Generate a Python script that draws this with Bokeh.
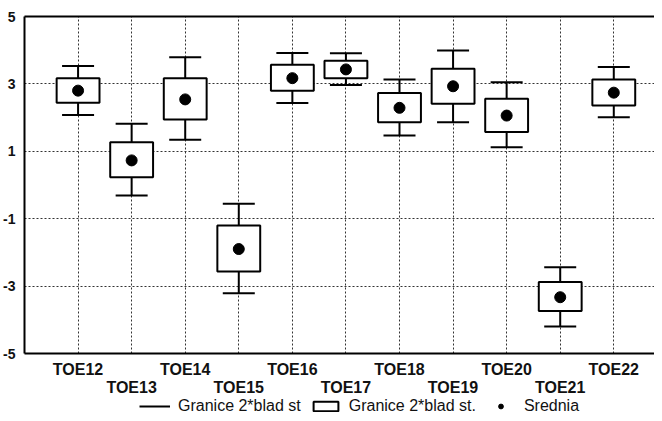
from bokeh.plotting import figure
from bokeh.layouts import column
from bokeh.models import (LinearAxis, FixedTicker, Range1d, Legend, LegendItem,
                          ColumnDataSource, Plot, Segment, VBar, Scatter)
from bokeh.embed import file_html
from bokeh.resources import INLINE

categories = ["TOE12", "TOE13", "TOE14", "TOE15", "TOE16", "TOE17",
              "TOE18", "TOE19", "TOE20", "TOE21", "TOE22"]
mean = [2.80, 0.73, 2.54, -1.90, 3.17, 3.43, 2.29, 2.93, 2.06, -3.33, 2.74]
box_hi = [3.17, 1.27, 3.17, -1.20, 3.57, 3.69, 2.73, 3.45, 2.56, -2.88, 3.13]
box_lo = [2.44, 0.23, 1.94, -2.57, 2.80, 3.17, 1.86, 2.41, 1.57, -3.74, 2.36]
whisk_hi = [3.53, 1.82, 3.79, -0.56, 3.92, 3.91, 3.13, 3.99, 3.05, -2.44, 3.50]
whisk_lo = [2.08, -0.31, 1.34, -3.21, 2.43, 2.97, 1.47, 1.86, 1.12, -4.20, 2.01]
y_ticks = [-5, -3, -1, 1, 3, 5]
y_tick_labels = ["-5", "-3", "-1", "1", "3", "5"]
legend_labels = ["Granice 2*blad st", "Granice 2*blad st.", "Srednia"]

x_pos = list(range(1, len(categories) + 1))
src = ColumnDataSource(dict(x=x_pos, mean=mean, box_hi=box_hi, box_lo=box_lo,
                            whisk_hi=whisk_hi, whisk_lo=whisk_lo))

FONT = "Liberation Sans"

p = figure(width=654, height=401,
           x_range=Range1d(0, 11.76), y_range=Range1d(-5, 5),
           output_backend="svg", toolbar_location=None,
           min_border_left=19, min_border_right=0, min_border_top=16,
           min_border_bottom=48)
p.outline_line_color = None
p.background_fill_color = "white"
p.border_fill_color = "white"

# grids
p.xgrid.ticker = FixedTicker(ticks=x_pos)
p.ygrid.ticker = FixedTicker(ticks=[t for t in y_ticks if -5 < t < 5])
for g in (p.xgrid[0], p.ygrid[0]):
    g.grid_line_color = "#333333"
    g.grid_line_dash = "2 2"
    g.grid_line_width = 1

# left axis
ya = p.yaxis[0]
ya.ticker = FixedTicker(ticks=y_ticks)
ya.major_label_overrides = {t: s for t, s in zip(y_ticks, y_tick_labels)}
ya.axis_line_width = 2
ya.axis_line_color = "black"
ya.major_tick_line_color = None
ya.minor_tick_line_color = None
ya.major_label_text_font = FONT
ya.major_label_text_font_style = "bold"
ya.major_label_text_font_size = "14px"
ya.major_label_text_color = "#111111"
ya.major_label_standoff = 3

# bottom axis: staggered category labels (odd positions on a second line)
xa = p.xaxis[0]
xa.ticker = FixedTicker(ticks=x_pos)
xa.major_label_overrides = {x: (c if i % 2 == 0 else "\n" + c)
                            for i, (x, c) in enumerate(zip(x_pos, categories))}
xa.axis_line_width = 2
xa.axis_line_color = "black"
xa.major_tick_line_color = None
xa.minor_tick_line_color = None
xa.major_label_text_font = FONT
xa.major_label_text_font_style = "bold"
xa.major_label_text_font_size = "16px"
xa.major_label_text_color = "#111111"
xa.major_label_text_line_height = 1.1
xa.major_label_standoff = 1

# top frame line
xt = LinearAxis(ticker=FixedTicker(ticks=[]), axis_line_width=2,
                axis_line_color="black", major_tick_line_color=None,
                minor_tick_line_color=None, major_label_text_font_size="0px",
                major_label_standoff=0)
p.add_layout(xt, "above")

# stems
p.segment(x0="x", y0="whisk_lo", x1="x", y1="whisk_hi", source=src,
          line_color="black", line_width=2)
# boxes
p.vbar(x="x", width=0.8, top="box_hi", bottom="box_lo", source=src,
       fill_color="white", line_color="black", line_width=2)
# caps
p.scatter(x="x", y="whisk_hi", source=src, marker="dash", size=32,
          line_color="black", line_width=2)
p.scatter(x="x", y="whisk_lo", source=src, marker="dash", size=32,
          line_color="black", line_width=2)
# means
p.scatter(x="x", y="mean", source=src, marker="circle", size=11,
          fill_color="black", line_color="black")

# legend strip below the chart (its own small plot, so nothing is clipped)
leg = Plot(width=654, height=20, x_range=Range1d(0, 11.76),
           y_range=Range1d(-5, 5), output_backend="svg",
           toolbar_location=None, min_border=0, outline_line_color=None,
           background_fill_alpha=0, border_fill_alpha=0,
           margin=(-6, 0, 0, 0))
leg_stem = leg.add_glyph(src, Segment(x0="x", y0="whisk_lo", x1="x",
                                      y1="whisk_hi", line_color="black",
                                      line_width=2), visible=False)
leg_box = leg.add_glyph(src, VBar(x="x", width=0.8, top="box_hi",
                                  bottom="box_lo", fill_color="white",
                                  line_color="black", line_width=2),
                        visible=False)
leg_dot = leg.add_glyph(src, Scatter(x="x", y="mean", marker="circle", size=11,
                                     fill_color="black", line_color="black"),
                        visible=False)

legend = Legend(items=[LegendItem(label=legend_labels[0], renderers=[leg_stem]),
                       LegendItem(label=legend_labels[1], renderers=[leg_box]),
                       LegendItem(label=legend_labels[2], renderers=[leg_dot])],
                orientation="horizontal", location=(115, 0),
                glyph_width=31, glyph_height=12, label_standoff=8, spacing=9,
                padding=0, margin=0, border_line_color=None,
                background_fill_alpha=0, label_height=14,
                inactive_fill_alpha=0, click_policy="none",
                label_text_font=FONT, label_text_font_size="16px",
                label_text_color="#111111")
leg.add_layout(legend, "center")

layout = column(p, leg, spacing=0)
open("out.html", "w").write(file_html(layout, INLINE))
